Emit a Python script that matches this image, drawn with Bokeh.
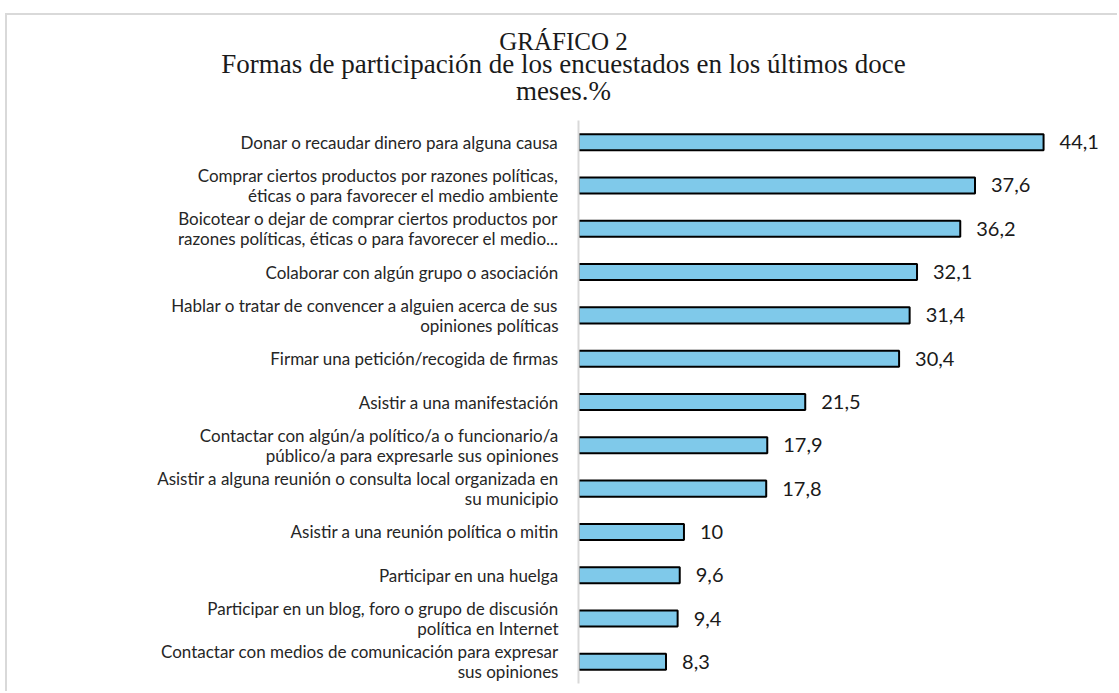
from bokeh.plotting import figure
from bokeh.models import FactorRange, Range1d, ColumnDataSource
from bokeh.embed import file_html
from bokeh.resources import INLINE
from bokeh.core.properties import value

categories = [
    "Donar o recaudar dinero para alguna causa",
    "Comprar ciertos productos por razones políticas,\néticas o para favorecer el medio ambiente",
    "Boicotear o dejar de comprar ciertos productos por\nrazones políticas, éticas o para favorecer el medio...",
    "Colaborar con algún grupo o asociación",
    "Hablar o tratar de convencer a alguien acerca de sus\nopiniones políticas",
    "Firmar una petición/recogida de firmas",
    "Asistir a una manifestación",
    "Contactar con algún/a político/a o funcionario/a\npúblico/a para expresarle sus opiniones",
    "Asistir a alguna reunión o consulta local organizada en\nsu municipio",
    "Asistir a una reunión política o mitin",
    "Participar en una huelga",
    "Participar en un blog, foro o grupo de discusión\npolítica en Internet",
    "Contactar con medios de comunicación para expresar\nsus opiniones",
]
values = [44.1, 37.6, 36.2, 32.1, 31.4, 30.4, 21.5, 17.9, 17.8, 10, 9.6, 9.4, 8.3]
value_labels = ["44,1", "37,6", "36,2", "32,1", "31,4", "30,4", "21,5", "17,9", "17,8", "10", "9,6", "9,4", "8,3"]

title_lines = ["GRÁFICO 2",
               "Formas de participación de los encuestados en los últimos doce",
               "meses.%"]

# ---- title strip (screen-pixel coordinate space) ----
t = figure(width=1112, height=107, x_range=Range1d(7, 1119), y_range=Range1d(122, 15),
           output_backend="svg", toolbar_location=None,
           x_axis_location=None, y_axis_location=None,
           min_border_left=0, min_border_right=0, min_border_top=0, min_border_bottom=0)
t.margin = (13, 0, 0, 5)
t.styles = {"border-top": "2px solid #d9d9d9", "border-left": "2px solid #d9d9d9"}
t.outline_line_color = None
t.xgrid.visible = False
t.ygrid.visible = False
tsrc = ColumnDataSource(dict(txt=title_lines, x=[563, 563, 563], y=[41, 63, 90],
                             fs=["25px", "27px", "27px"]))
t.text(x="x", y="y", text="txt", source=tsrc, text_align="center", text_baseline="middle",
       text_font=value("Liberation Serif"), text_font_size="fs", text_color="#1a1a1a")

# ---- bar chart ----
src = ColumnDataSource(dict(cat=categories, val=values, lab=value_labels))

p = figure(width=1112, height=571,
           y_range=FactorRange(*categories[::-1]),
           x_range=(0, 51.3),
           output_backend="svg", toolbar_location=None,
           x_axis_location=None,
           min_border_left=571, min_border_right=0,
           min_border_top=0, min_border_bottom=8)
p.margin = (0, 0, 0, 5)
p.styles = {"border-left": "2px solid #d9d9d9"}
p.outline_line_color = None
p.xgrid.visible = False
p.ygrid.visible = False

p.hbar(y="cat", left=0, right="val", height=0.37, source=src,
       fill_color="#7FC9EA", line_color="black", line_width=2)
p.text(x="val", y="cat", text="lab", source=src, x_offset=16,
       text_baseline="middle", text_align="left",
       text_font=value("Lato"), text_font_size="20px", text_color="#1a1a1a")

ax = p.yaxis[0]
ax.axis_line_color = "#d9d9d9"
ax.axis_line_width = 2
ax.major_tick_line_color = None
ax.minor_tick_line_color = None
ax.major_label_text_font = "Lato"
ax.major_label_text_font_size = "17px"
ax.major_label_text_line_height = 0.95
ax.major_label_text_color = "#262626"
ax.major_label_standoff = 14

open("out.html", "w").write(file_html([t, p], INLINE))
